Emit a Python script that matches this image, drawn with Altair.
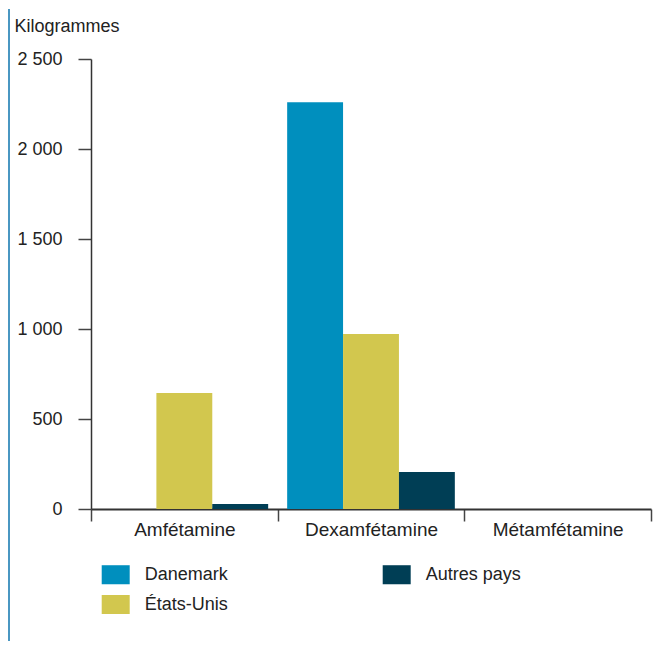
import altair as alt
import pandas as pd

drugs = ["Amfétamine", "Dexamfétamine", "Métamfétamine"]
countries = ["Danemark", "États-Unis", "Autres pays"]
danemark = [0, 2260, 0]
etats_unis = [645, 972, 0]
autres_pays = [28, 206, 0]
palette = {"Danemark": "#008fbe", "États-Unis": "#d2c74e", "Autres pays": "#003e55"}
y_ticks = [0, 500, 1000, 1500, 2000, 2500]

rows = []
for name, vals in zip(countries, [danemark, etats_unis, autres_pays]):
    for d, v in zip(drugs, vals):
        rows.append({"drug": d, "country": name, "kg": v})
df = pd.DataFrame(rows)

FONT = "Liberation Sans"
TXT = "#222222"

bars = alt.Chart(df).mark_bar(strokeWidth=0).encode(
    x=alt.X(
        "drug:N",
        sort=drugs,
        scale=alt.Scale(paddingInner=0, paddingOuter=0),
        axis=alt.Axis(
            title=None, labelAngle=0, tickBand="extent", grid=False,
            domainColor="#333333", domainWidth=2, tickColor="#444444", tickWidth=1.5,
            tickSize=12, labelPadding=-1, labelFontSize=19, labelFont=FONT, labelColor=TXT,
        ),
    ),
    xOffset=alt.XOffset(
        "country:N", sort=countries,
        scale=alt.Scale(paddingInner=0, paddingOuter=0.17),
    ),
    y=alt.Y(
        "kg:Q",
        scale=alt.Scale(domain=[0, 2500], nice=False),
        axis=alt.Axis(
            values=y_ticks, grid=False, title="Kilogrammes", titleAngle=0,
            titleAlign="left", titleBaseline="alphabetic", titleX=-77, titleY=-28,
            titleFont=FONT, titleFontSize=18, titleFontWeight="normal", titleColor=TXT,
            labelExpr="replace(format(datum.value, ','), ',', ' ')",
            domainColor="#333333", domainWidth=1.5, tickColor="#444444", tickWidth=1.5,
            tickSize=13, labelPadding=16, labelFontSize=18, labelFont=FONT, labelColor=TXT,
        ),
    ),
    color=alt.Color(
        "country:N",
        scale=alt.Scale(domain=countries, range=[palette[c] for c in countries]),
        legend=alt.Legend(
            title=None, orient="none", legendX=10.7, legendY=501.5, columns=2,
            columnPadding=154, rowPadding=6, padding=0,
            symbolType="M-1,-0.68H1V0.68H-1Z", symbolSize=784, symbolStrokeWidth=0,
            symbolOpacity=1, labelOffset=15, labelFontSize=18, labelFont=FONT,
            labelColor=TXT,
        ),
    ),
)

border = alt.Chart(pd.DataFrame({"a": [0]})).mark_rule(
    color="#4a97c2", strokeWidth=2
).encode(x=alt.value(-82), y=alt.value(-50), y2=alt.value(582))

chart = alt.layer(border, bars).properties(
    width=560, height=450,
    padding={"left": 0, "top": 0, "right": 5, "bottom": 0},
).configure_view(stroke=None)

chart.save("out.html", embed_options={"renderer": "svg", "actions": False})
